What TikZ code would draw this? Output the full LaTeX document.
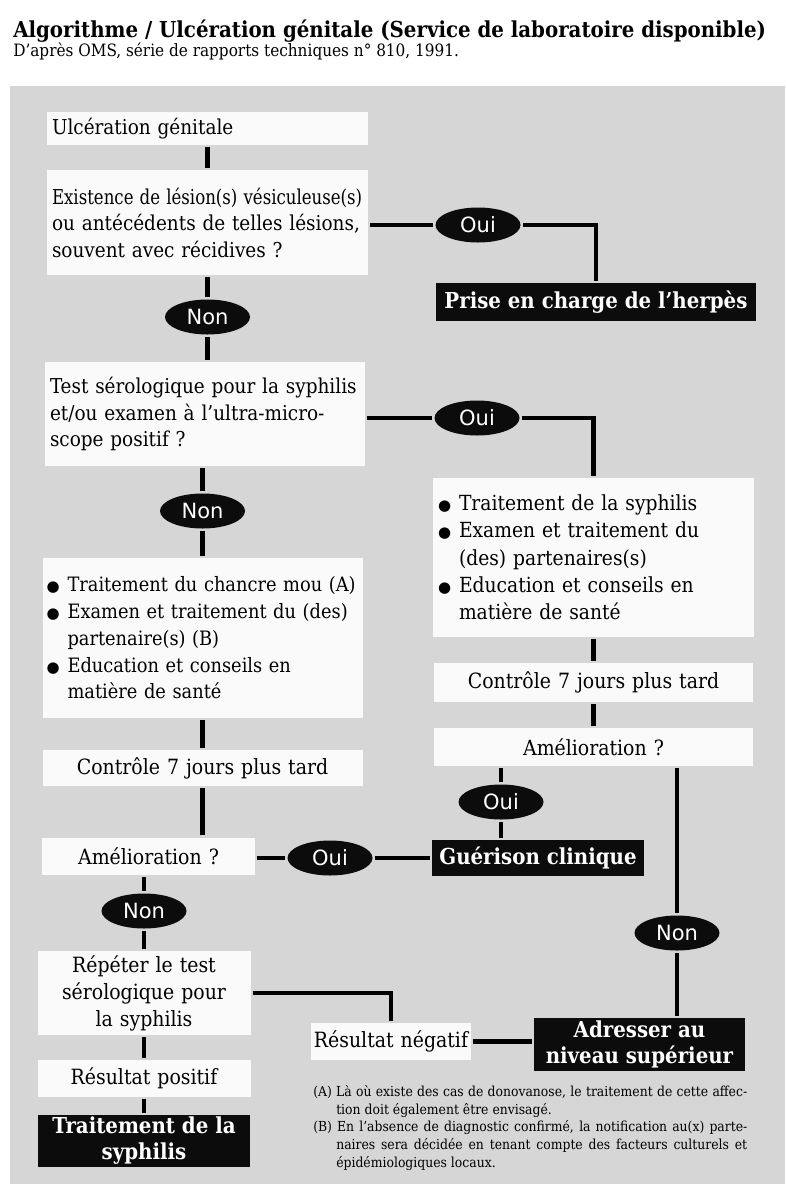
\documentclass[tikz,border=0pt]{standalone}
\usepackage{fontspec}
\usepackage{graphicx}
\setmainfont{DejaVu Serif Condensed}
\newfontfamily\ovalfont{DejaVu Sans}
\usetikzlibrary{shapes.geometric}
\definecolor{paper}{RGB}{214,214,214}
\definecolor{boxwhite}{RGB}{250,250,250}
\definecolor{ink}{RGB}{12,12,12}
\newcommand\bul{\makebox[21pt][l]{\ovalfont\fontsize{15}{15}\selectfont ●}}
\newcommand\ind{\hspace*{21pt}}
\begin{document}
\begin{tikzpicture}[x=1pt, y=-1pt, line width=4.5pt,
  txt/.style = {fill=boxwhite, inner xsep=5pt, inner ysep=0pt, align=left, font=\fontsize{20.5}{26.5}\selectfont},
  ctr/.style = {txt, align=center, font=\fontsize{21}{27}\selectfont},
  blk/.style = {fill=ink, text=white, inner sep=0pt, align=center, font=\bfseries\fontsize{22}{26}\selectfont},
  oval/.style = {ellipse, fill=ink, text=white, inner sep=0pt, minimum width=85pt, minimum height=35pt, font=\ovalfont\fontsize{21}{21}\selectfont}]
  \useasboundingbox[fill=white] (0,0) rectangle (785,1184);
  \fill[paper] (10,86) rectangle (785,1184);
  % heading
  \node[anchor=base west, inner sep=0pt, font=\bfseries\fontsize{22}{26}\selectfont] (title) at (11,37) {Algorithme / Ulcération génitale (Service de laboratoire disponible)};
  \node[anchor=base west, inner sep=0pt, font=\fontsize{17}{20}\selectfont] (source) at (11,56) {D’après OMS, série de rapports techniques n° 810, 1991.};
  % left column
  \node[txt, text width=311pt, minimum height=33pt] (ulc) at (207.5,128.5) {Ulcération génitale};
  \node[txt, text width=311pt, minimum height=105pt] (lesion) at (207.5,222.5) {\scalebox{0.9}[1]{Existence de lésion(s) vésiculeuse(s)}\\ ou antécédents de telles lésions,\\ souvent avec récidives ?};
  \node[oval] (non1) at (207.5,317) {Non};
  \node[txt, text width=310pt, minimum height=104pt] (test) at (205,414) {Test sérologique pour la syphilis\\ et/ou examen à l’ultra-micro-\\ scope positif ?};
  \node[oval] (non2) at (202.5,511) {Non};
  \node[txt, inner xsep=4pt, text width=312pt, minimum height=160pt, font=\fontsize{19.8}{26.7}\selectfont] (traitL) at (202.5,638) {\bul Traitement du chancre mou (A)\\ \bul Examen et traitement du (des)\\ \ind partenaire(s) (B)\\ \bul Education et conseils en\\ \ind matière de santé};
  \node[ctr, text width=310pt, minimum height=36pt] (ctrlL) at (202.5,768) {Contrôle 7 jours plus tard};
  \node[ctr, text width=203pt, minimum height=37pt] (amelL) at (148.5,856) {Amélioration ?};
  \node[oval] (ouiL) at (330,858) {Oui};
  \node[oval] (nonL) at (144,911) {Non};
  \node[ctr, text width=203pt, minimum height=84pt] (repet) at (144,993) {Répéter le test\\ sérologique pour\\ la syphilis};
  \node[ctr, text width=203pt, minimum height=37pt] (respos) at (144,1078.5) {Résultat positif};
  \node[blk, minimum width=212pt, minimum height=52pt] (traitS) at (144,1141) {Traitement de la\\ syphilis};
  % right column
  \node[oval] (oui1) at (478,225) {Oui};
  \node[blk, minimum width=320pt, minimum height=38pt] (herpes) at (596,302) {Prise en charge de l’herpès};
  \node[oval] (oui2) at (477,418) {Oui};
  \node[txt, text width=311pt, minimum height=159pt, font=\fontsize{20.8}{27.3}\selectfont] (traitR) at (593.5,557.5) {\bul Traitement de la syphilis\\ \bul Examen et traitement du\\ \ind(des) partenaires(s)\\ \bul Education et conseils en\\ \ind matière de santé};
  \node[ctr, text width=309pt, minimum height=39pt] (ctrlR) at (593.5,682.5) {Contrôle 7 jours plus tard};
  \node[ctr, text width=309pt, minimum height=38pt] (amelR) at (593.5,747) {Amélioration ?};
  \node[oval] (ouiR) at (501,802) {Oui};
  \node[blk, minimum width=212pt, minimum height=36pt] (guer) at (538,858) {Guérison clinique};
  \node[oval] (nonR) at (677,933) {Non};
  \node[ctr, inner xsep=1pt, text width=158pt, minimum height=37pt] (resneg) at (391,1041.5) {Résultat négatif};
  \node[blk, minimum width=211pt, minimum height=53pt] (adress) at (639.5,1044.5) {Adresser au\\ niveau supérieur};
  % notes
  \node[anchor=north west, align=left, inner sep=0pt, font=\fontsize{13.8}{17.8}\selectfont] (notes) at (311,1083) {\makebox[434pt][s]{(A) Là où existe des cas de donovanose, le traitement de cette affec-}\\ \hspace*{23pt}tion doit également être envisagé.\\ \makebox[434pt][s]{(B) En l’absence de diagnostic confirmé, la notification au(x) parte-}\\ \hspace*{23pt}\makebox[411pt][s]{naires sera décidée en tenant compte des facteurs culturels et}\\ \hspace*{23pt}épidémiologiques locaux.};
  % connectors
  \draw (ulc) -- (lesion);
  \draw (lesion) -- (non1) -- (test.north -| non1);
  \draw (lesion.east |- oui1) -- (oui1) -| (herpes);
  \draw (test.east |- oui2) -- (oui2) -| (traitR);
  \draw (test.south -| non2) -- (non2) -- (traitL);
  \draw (traitL) -- (ctrlL);
  \draw (ctrlL) -- (ctrlL |- amelL.north);
  \draw (amelL.east |- ouiL) -- (ouiL) -- (guer);
  \draw (amelL.south -| nonL) -- (nonL) -- (repet);
  \draw (repet) -- (respos) -- (traitS);
  \draw (repet.east) -| (resneg);
  \draw (resneg.east) -- (resneg.east -| adress.west);
  \draw (traitR.south -| ctrlR) -- (ctrlR) -- (amelR);
  \draw (amelR.south -| ouiR) -- (ouiR) -- (ouiR |- guer.north);
  \draw (amelR.south -| nonR) -- (nonR) -- (nonR |- adress.north);
\end{tikzpicture}
\end{document}
